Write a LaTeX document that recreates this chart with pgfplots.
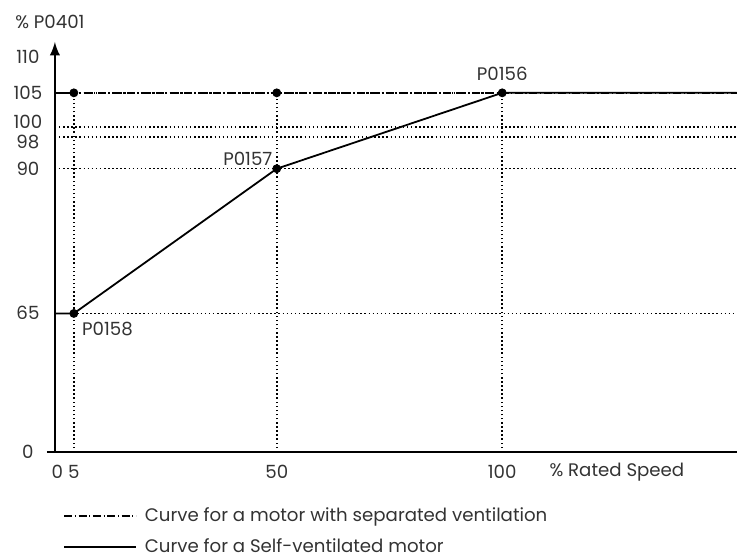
\documentclass[border=0pt]{standalone}
\usepackage{pgfplots}
\pgfplotsset{compat=1.18}
\usepackage{fontspec}
\setmainfont{Poppins}
% The vertical scale of the original is schematic (not linear).
% y values below are positions on that schematic scale:
% 0->0, 65->139, 90->284, 98->316, 100->326, 105->360, 110->396
\begin{document}
\begin{tikzpicture}[font=\fontsize{9.1}{10.5}\selectfont]
\begin{axis}[
  scale only axis, width=341.5pt, height=205.5pt,
  xmin=0.8, xmax=152, ymin=0, ymax=411,
  clip=false,
  axis x line=bottom, axis y line=left,
  x axis line style={-, line width=1.3pt, shorten <=-4pt},
  y axis line style={-latex, line width=1.3pt},
  major tick length=0pt,
  xtick={0.8,5,50,100}, xticklabels={\hspace{2.5pt}0,5,50,100},
  % label positions (label centres; 98 and 100 are pushed apart as in the original)
  ytick={0,140,284,311,331,360,396},
  yticklabels={0,65,90,98,100,105,110},
  xticklabel style={anchor=center, yshift=-10pt, text=black!80},
  yticklabel style={anchor=center, xshift=-13.5pt, text=black!80},
  legend style={at={(0,0)}, anchor=north west, xshift=4pt, yshift=-26.5pt,
    draw=none, fill=none, inner sep=0pt, row sep=5pt,
    nodes={inner sep=1pt, text=black!80}},
  legend cell align=left,
  legend image code/.code={\draw[#1] (0pt,0pt) -- (36pt,0pt); \path (39pt,0pt);},
]
\addlegendimage{black, line width=0.9pt, dash pattern=on 4pt off 1.3pt on 0.6pt off 1.3pt}
\addlegendentry{Curve for a motor with separated ventilation}
\addlegendimage{black, line width=0.9pt}
\addlegendentry{Curve for a Self-ventilated motor}
% dotted guide lines
\addplot[forget plot, black, line width=0.75pt, dash pattern=on 0.75pt off 1.3pt] coordinates {(5,0) (5,360)};
\addplot[forget plot, black, line width=0.75pt, dash pattern=on 0.75pt off 1.3pt] coordinates {(50,0) (50,360)};
\addplot[forget plot, black, line width=0.75pt, dash pattern=on 0.75pt off 1.3pt] coordinates {(100,0) (100,360)};
\addplot[forget plot, black, line width=0.75pt, dash pattern=on 0.75pt off 1.3pt] coordinates {(5,139) (152,139)};
\addplot[forget plot, black, line width=0.75pt, dash pattern=on 0.75pt off 1.3pt] coordinates {(0.8,284) (152,284)};
\addplot[forget plot, black, line width=0.75pt, dash pattern=on 0.75pt off 1.3pt] coordinates {(0.8,316) (152,316)};
\addplot[forget plot, black, line width=0.75pt, dash pattern=on 0.75pt off 1.3pt] coordinates {(0.8,326) (152,326)};
\addplot[forget plot, black, line width=0.75pt, dash pattern=on 0.75pt off 1.3pt] coordinates {(0.8,360) (100,360)};
% separated ventilation
\addplot[forget plot, black, line width=1pt, dash pattern=on 4pt off 1.3pt on 0.6pt off 1.3pt] coordinates {(0.8,360) (152,360)};
% self-ventilated
\addplot[forget plot, black, line width=0.9pt] coordinates {(0.8,139) (5,139) (50,284) (100,360) (152,360)};
% points
\addplot[forget plot, only marks, mark=*, mark size=2pt, black] coordinates {(5,360) (50,360) (100,360) (5,139) (50,284)};
\node[anchor=south, yshift=2.5pt, text=black!80] at (axis cs:100,360) {P0156};
\node[anchor=east, inner sep=0pt, xshift=-2pt, yshift=5pt, text=black!80] at (axis cs:50,284) {P0157};
\node[anchor=west, inner sep=0pt, xshift=4pt, yshift=-8pt, text=black!80] at (axis cs:5,139) {P0158};
\node[anchor=west, inner sep=0pt, xshift=23.5pt, yshift=-10pt, text=black!80] at (axis cs:100,0) {\% Rated Speed};
\node[anchor=center, inner sep=0pt, xshift=-2.5pt, yshift=10.25pt, text=black!80] at (axis cs:0.8,411) {\% P0401};
\coordinate (O) at (axis cs:0.8,0);
\end{axis}
\path (O) ++(-27.5pt,-48.5pt) rectangle ++(369pt,275pt);
\end{tikzpicture}
\end{document}
